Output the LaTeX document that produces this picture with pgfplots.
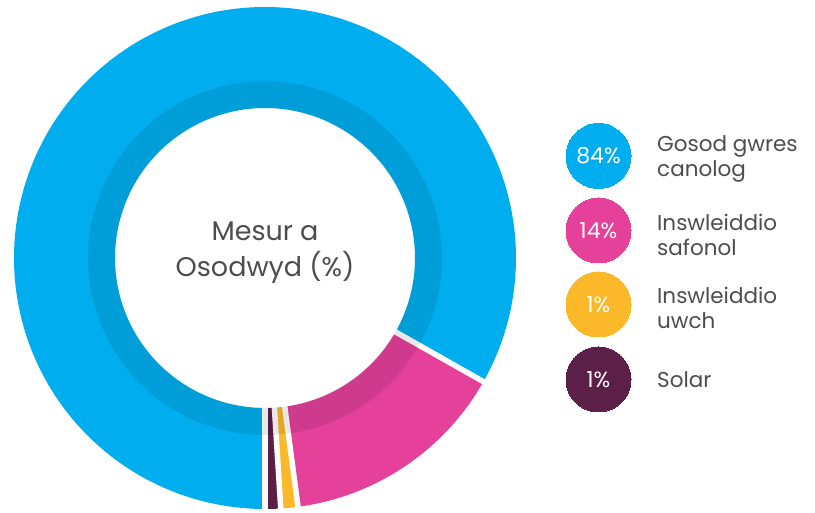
\documentclass[border=0pt]{standalone}
\usepackage{pgfplots}
\pgfplotsset{compat=1.18}
\usepackage{fontspec}
\setmainfont{Poppins}
\definecolor{cblue}{HTML}{00AEEF}
\definecolor{cpink}{HTML}{E5409A}
\definecolor{corange}{HTML}{FBB829}
\definecolor{cpurple}{HTML}{5B1F48}
\definecolor{ctext}{HTML}{4D4D4D}
% values (share of the ring, percent)
\def\vSolar{1.0}
\def\vUwch{1.1}
\def\vSafonol{14.7}
\def\vGwres{83.2}
\pgfmathsetmacro\aA{-90}
\pgfmathsetmacro\aB{\aA+3.6*\vSolar}
\pgfmathsetmacro\aC{\aB+3.6*\vUwch}
\pgfmathsetmacro\aD{\aC+3.6*\vSafonol}
\pgfmathsetmacro\aE{\aD+3.6*\vGwres}
\pgfplotsset{legdot/.style={only marks, mark=*, mark size=32.5pt, color=#1,
   mark options={draw=#1, fill=#1, line width=0pt},
   every node near coord/.append style={anchor=center, text=white, inner sep=0pt, font=\fontsize{22}{24}\selectfont}}}
\begin{document}
\begin{tikzpicture}
\begin{axis}[hide axis, scale only axis, width=815pt, height=510pt,
  xmin=0, xmax=815, ymin=0, ymax=510, clip=false]
\path (rel axis cs:0,0) rectangle (rel axis cs:1,1);
% ring slices
\addplot[cpurple, line width=101pt, domain=\aA:\aB, samples=6] ({265+200.5*cos(x)},{252+200.5*sin(x)});
\addplot[corange, line width=101pt, domain=\aB:\aC, samples=6] ({265+200.5*cos(x)},{252+200.5*sin(x)});
\addplot[cpink, line width=101pt, domain=\aC:\aD, samples=60] ({265+200.5*cos(x)},{252+200.5*sin(x)});
\addplot[cblue, line width=101pt, domain=\aD:\aE, samples=240] ({265+200.5*cos(x)},{252+200.5*sin(x)});
% separators
\addplot[white, line width=5.5pt, domain=147:252, samples=2] ({265+x*cos(\aA)},{252+x*sin(\aA)});
\addplot[white, line width=5.5pt, domain=147:252, samples=2] ({265+x*cos(\aB)},{252+x*sin(\aB)});
\addplot[white, line width=5.5pt, domain=147:252, samples=2] ({265+x*cos(\aC)},{252+x*sin(\aC)});
\addplot[white, line width=5.5pt, domain=147:252, samples=2] ({265+x*cos(\aD)},{252+x*sin(\aD)});
% inner darker band
\addplot[black, opacity=0.09, line width=27pt, domain=0:360, samples=240] ({265+163.5*cos(x)},{252+163.5*sin(x)});
% centre text
\node[text=ctext, align=center, font=\fontsize{27}{36}\selectfont] at (axis cs:265,257) {Mesur a\\Osodwyd (\%)};
% legend
\addplot[legdot=cblue, nodes near coords={84\%}] coordinates {(598.5,354)};
\addplot[legdot=cpink, nodes near coords={14\%}] coordinates {(598.5,279.5)};
\addplot[legdot=corange, nodes near coords={1\%}] coordinates {(598.5,205.5)};
\addplot[legdot=cpurple, nodes near coords={1\%}] coordinates {(598.5,130.5)};
\node[text=ctext, anchor=west, align=left, inner sep=0pt, font=\fontsize{21.5}{25}\selectfont] at (axis cs:657,351) {Gosod gwres\\canolog};
\node[text=ctext, anchor=west, align=left, inner sep=0pt, font=\fontsize{21.5}{25}\selectfont] at (axis cs:657,275) {Inswleiddio\\safonol};
\node[text=ctext, anchor=west, align=left, inner sep=0pt, font=\fontsize{21.5}{25}\selectfont] at (axis cs:657,202) {Inswleiddio\\uwch};
\node[text=ctext, anchor=west, align=left, inner sep=0pt, font=\fontsize{21.5}{25}\selectfont] at (axis cs:657,130) {Solar};
\end{axis}
\end{tikzpicture}
\end{document}
